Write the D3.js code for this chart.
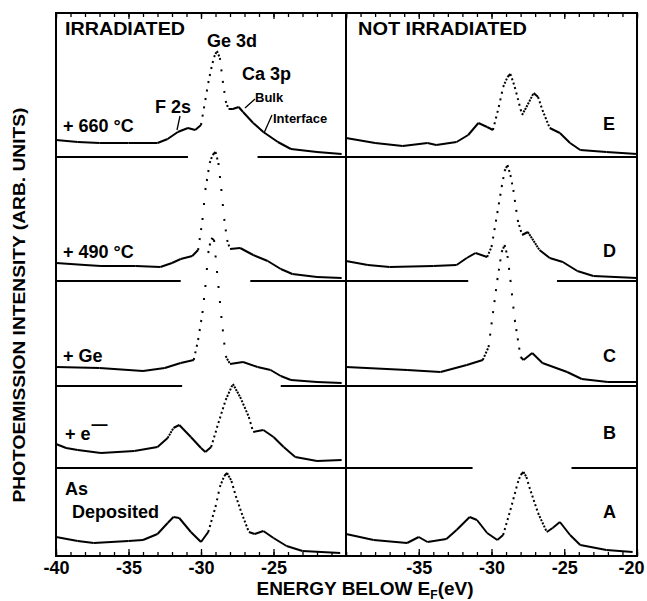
<html>
<head>
<style>
  body { margin: 0; background: #fff; }
  text { font-family: "Liberation Sans", Arial, sans-serif; font-weight: bold; fill: #000; }
</style>
<script src="https://d3js.org/d3.v7.min.js"></script>
</head>
<body>
<svg id="chart" width="647" height="601"></svg>
<script>
// spectra: [energy below E_F (eV), intensity (arb. units)]
const irradE = [[-40,17],[-38.5,15],[-37,14],[-35,14],[-33,14],[-32.3,18],[-31.6,25],[-30.9,29],[-30.4,27],[-30.0,32],[-29.7,57],[-29.5,74],[-29.3,88],[-29.1,100],[-28.9,106],[-28.7,99],[-28.5,76],[-28.3,56],[-28.1,48],[-27.8,48],[-27.4,50],[-27.1,45],[-26.4,34],[-25.7,25],[-24.7,15],[-23.8,8],[-22,5],[-20.3,3]];
const irradD = [[-40,18],[-38,16],[-36.9,15],[-34.5,15],[-32.8,14],[-32,18],[-31.4,22],[-30.6,25],[-30.2,31],[-29.9,61],[-29.7,91],[-29.4,118],[-29.2,126],[-29.0,129],[-28.8,118],[-28.6,92],[-28.4,62],[-28.2,41],[-28.0,32],[-27.3,33],[-26.4,26],[-25.4,20],[-24.5,12],[-23.7,7],[-22,4],[-20.3,3]];
const irradC = [[-40,19],[-37,18],[-34,15],[-32.5,18],[-31.4,23],[-30.5,26],[-30.2,46],[-29.9,73],[-29.7,99],[-29.5,133],[-29.3,148],[-29.1,146],[-28.9,115],[-28.6,70],[-28.3,30],[-28.0,22],[-27.1,24],[-26.1,19],[-25.2,16],[-24.5,10],[-23.8,6],[-22,4],[-20.3,3]];
const irradB = [[-40,24],[-39.3,20],[-38.5,18],[-36.9,15],[-34.6,17],[-33,21],[-32.3,30],[-31.9,40],[-31.5,43],[-30.7,31],[-30.0,20],[-29.7,16],[-29.3,21],[-28.8,45],[-28.3,68],[-27.8,84],[-27.3,71],[-26.7,51],[-26.4,36],[-25.7,38],[-25.0,31],[-24.3,21],[-23.5,11],[-22,7],[-20.3,8]];
const irradA = [[-40,19],[-38.5,15],[-37.4,13],[-35,15],[-34,16],[-33,22],[-32.3,33],[-31.9,39],[-31.5,38],[-30.7,24],[-30.0,14],[-29.5,24],[-29.0,49],[-28.7,69],[-28.4,80],[-28.2,83],[-27.9,75],[-27.6,60],[-27.2,43],[-26.7,24],[-26.3,22],[-25.7,25],[-25.0,18],[-24.1,10],[-23,5],[-20.4,3]];

const notE = [[-40,19],[-38,14],[-36.1,11],[-34.4,14],[-33.8,12],[-32.4,15],[-31.6,22],[-30.9,34],[-30.3,30],[-29.9,27],[-29.5,50],[-29.2,70],[-28.9,80],[-28.7,83],[-28.4,70],[-27.9,42],[-27.6,50],[-27.1,64],[-26.8,60],[-26.5,47],[-26.0,29],[-25.3,24],[-24.6,14],[-23.9,7],[-22.1,5],[-20,3]];
const notD = [[-40,20],[-38.5,16],[-37,14],[-34,15],[-32.4,16],[-31.7,23],[-31.1,28],[-30.3,24],[-30.0,34],[-29.6,68],[-29.3,94],[-29.1,110],[-28.9,116],[-28.7,106],[-28.5,91],[-28.2,61],[-27.9,46],[-27.5,49],[-26.7,31],[-26.0,23],[-25.1,19],[-24.1,10],[-23.0,5],[-20,3]];
const notC = [[-40,19],[-35.8,16],[-33.5,14],[-31.7,21],[-30.6,26],[-30.2,39],[-29.9,73],[-29.6,106],[-29.3,134],[-29.1,141],[-28.9,130],[-28.7,106],[-28.4,66],[-28.0,29],[-27.8,26],[-27.2,33],[-26.5,23],[-24.8,14],[-23.8,7],[-22,4],[-20,4]];
const notA = [[-40,22],[-38.1,16],[-35.8,13],[-35.0,19],[-34.4,14],[-33.1,17],[-32.4,26],[-31.5,39],[-31.0,36],[-30.3,23],[-29.6,16],[-29.2,21],[-28.7,46],[-28.2,73],[-28.0,81],[-27.8,84],[-27.6,79],[-27.4,69],[-26.8,43],[-26.2,24],[-25.8,28],[-25.3,34],[-24.6,21],[-23.9,11],[-22.1,6],[-20.3,4]];

// breaks in the row separators (energy ranges), top to bottom
const irradGaps = [[-30.9,-26.1],[-31.4,-26.6],[-31.3,-24.5],null];
const notGaps = [null,[-31.6,-25.5],null,[-31.3,-24.5]];

const majorTicks = { left: [-40,-35,-30,-25], right: [-35,-30,-25,-20] };
const minorTicks = d3.range(-40, -19, 1);
const rowNames = ['E', 'D', 'C', 'B', 'A'];

// layout
const svg = d3.select('#chart');
const frame = { left: 56, mid: 346, right: 637, top: 13, bottom: 556 };
const rowBottoms = [157, 281, 386, 468, 556];
const y = d3.scaleLinear().domain([0, 150]).range([0, 150]);
const step = 1.45; // sampling step of the spectra in px

svg.append('rect').attr('width', 647).attr('height', 601).attr('fill', '#fff');

const panels = [
  { x: d3.scaleLinear().domain([-40, -20]).range([frame.left, frame.mid]), curves: [irradE, irradD, irradC, irradB, irradA], gaps: irradGaps, ticks: majorTicks.left },
  { x: d3.scaleLinear().domain([-40, -20]).range([frame.mid, frame.right]), curves: [notE, notD, notC, null, notA], gaps: notGaps, ticks: majorTicks.right }
];

panels.forEach(p => {
  const g = svg.append('g');

  // separators
  p.gaps.forEach((gap, i) => {
    const yy = rowBottoms[i];
    const parts = gap ? [[-40, gap[0]], [gap[1], -20]] : [[-40, -20]];
    parts.forEach(([a, b]) => {
      g.append('line').attr('x1', p.x(a)).attr('x2', p.x(b)).attr('y1', yy).attr('y2', yy)
        .attr('stroke', '#000').attr('stroke-width', 2);
    });
  });

  // spectra, drawn as points: steep parts come out dotted
  p.curves.forEach((data, i) => {
    if (!data) return;
    const base = rowBottoms[i];
    const pts = data.map(d => [p.x(d[0]), base - y(d[1])]);
    g.selectAll(null).data(d3.pairs(pts)).join('line')
      .attr('x1', d => d[0][0]).attr('y1', d => d[0][1])
      .attr('x2', d => d[1][0]).attr('y2', d => d[1][1])
      .attr('stroke', '#000').attr('stroke-width', 2)
      .attr('stroke-dasharray', ([a, b]) => {
        const L = Math.hypot(b[0] - a[0], b[1] - a[1]);
        const n = Math.max(1, (b[0] - a[0]) / step);
        const sp = L / n;
        return sp < 2.6 ? null : `2,${(sp - 2).toFixed(2)}`;
      });
  });

  // ticks
  g.append('g').attr('transform', `translate(0,${frame.bottom})`)
    .call(d3.axisBottom(p.x).tickValues(minorTicks).tickSize(-4).tickFormat(''))
    .call(a => a.select('.domain').remove());
  g.append('g').attr('transform', `translate(0,${frame.bottom})`)
    .call(d3.axisBottom(p.x).tickValues(p.ticks).tickSize(-7).tickPadding(5).tickFormat(d => '-' + Math.abs(d)))
    .call(a => a.select('.domain').remove())
    .call(a => a.selectAll('text').style('font-size', '18px').style('font-family', '"Liberation Sans", Arial, sans-serif').style('font-weight', 'bold')
      .attr('dx', d => d === -20 ? -6 : 0));
  g.append('g').attr('transform', `translate(0,${frame.top})`)
    .call(d3.axisTop(p.x).tickValues(minorTicks).tickSize(-4).tickFormat(''))
    .call(a => a.select('.domain').remove());
  g.append('g').attr('transform', `translate(0,${frame.top})`)
    .call(d3.axisTop(p.x).tickValues(d3.range(-40, -19, 5)).tickSize(-6).tickFormat(''))
    .call(a => a.select('.domain').remove());
  g.selectAll('.tick line').attr('stroke-width', 1.3);
});

// frame
svg.append('rect').attr('x', frame.left).attr('y', frame.top)
  .attr('width', frame.right - frame.left).attr('height', frame.bottom - frame.top)
  .attr('fill', 'none').attr('stroke', '#000').attr('stroke-width', 2);
svg.append('line').attr('x1', frame.mid).attr('x2', frame.mid).attr('y1', frame.top).attr('y2', frame.bottom)
  .attr('stroke', '#000').attr('stroke-width', 2);

// labels
const label = (x, yy, txt, size, anchor) => svg.append('text').attr('x', x).attr('y', yy)
  .attr('text-anchor', anchor || 'start').style('font-size', size + 'px').text(txt);

label(65, 35, 'IRRADIATED', 18).attr('textLength', 120).attr('lengthAdjust', 'spacingAndGlyphs');
label(358, 35, 'NOT IRRADIATED', 18).attr('textLength', 169).attr('lengthAdjust', 'spacingAndGlyphs');
label(232, 47, 'Ge 3d', 18, 'middle');
label(242, 80, 'Ca 3p', 18);
label(155, 113, 'F 2s', 18);
label(255, 102, 'Bulk', 13);
label(273, 123, 'Interface', 13);
label(63, 132, '+ 660 °C', 18);
label(63, 258, '+ 490 °C', 18);
label(63, 362, '+ Ge', 18);
const em = label(65, 440, '+ e', 18);
em.append('tspan').attr('dx', 1).attr('dy', -10).style('font-size', '16px').text('\u2014');
label(65, 495, 'As', 18);
label(72, 518, 'Deposited', 18);

rowNames.forEach((t, i) => label(603, [130, 257, 362, 439, 518][i], t, 18));

// leader lines
const leaders = [[180, 116, 177, 130], [255, 99, 245, 108], [272, 115, 264, 133]];
leaders.forEach(l => svg.append('line').attr('x1', l[0]).attr('y1', l[1]).attr('x2', l[2]).attr('y2', l[3])
  .attr('stroke', '#000').attr('stroke-width', 1.3));

// axis titles
const xt = svg.append('text').attr('x', 365).attr('y', 595).attr('text-anchor', 'middle').style('font-size', '19px');
xt.append('tspan').text('ENERGY BELOW E');
xt.append('tspan').attr('dy', 4).style('font-size', '12px').text('F');
xt.append('tspan').attr('dy', -4).text('(eV)');

svg.append('text').attr('transform', 'translate(25,305) rotate(-90)').attr('text-anchor', 'middle')
  .style('font-size', '17px').attr('textLength', 395).attr('lengthAdjust', 'spacingAndGlyphs')
  .text('PHOTOEMISSION INTENSITY (ARB. UNITS)');
</script>
</body>
</html>
